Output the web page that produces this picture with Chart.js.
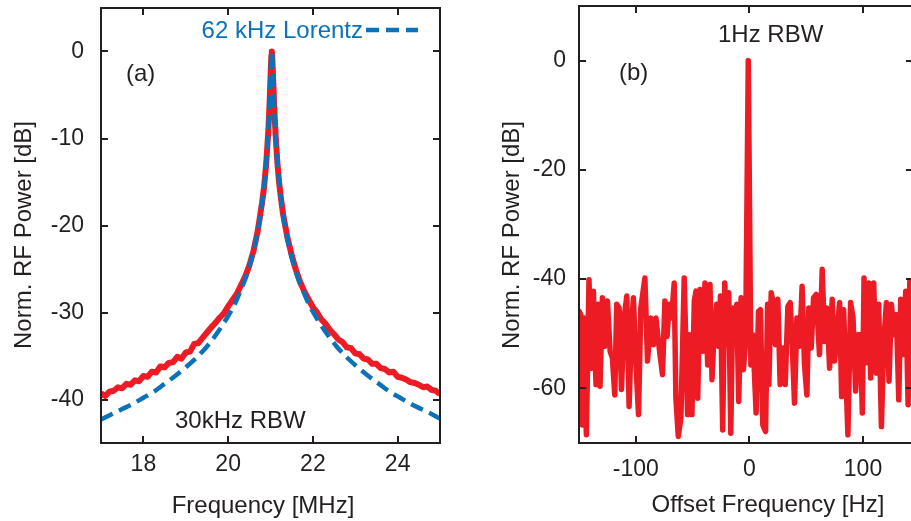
<!DOCTYPE html>
<html>
<head>
<meta charset="utf-8">
<script src="https://cdn.jsdelivr.net/npm/chart.js@4.4.1/dist/chart.umd.min.js"></script>
<style>
  html, body { margin: 0; padding: 0; background: #fff; overflow: hidden; width: 911px; height: 521px; }
  canvas { position: absolute; top: 0; }
  #chartA { left: 0; }
  #chartB { left: 460px; }
</style>
</head>
<body>
<canvas id="chartA" width="460" height="521"></canvas>
<canvas id="chartB" width="470" height="521"></canvas>
<script>
// --- panel (a): measured beat note, 30 kHz RBW ---
const measFreqMHz = [
  17.0, 17.1, 17.2, 17.3, 17.4, 17.5, 17.6, 17.7, 17.8, 17.9,
  18.0, 18.1, 18.2, 18.3, 18.4, 18.5, 18.6, 18.7, 18.8, 18.9,
  19.0, 19.1, 19.2, 19.3, 19.4, 19.5, 19.6, 19.7, 19.8, 19.9,
  20.0, 20.1, 20.2, 20.3, 20.4, 20.5, 20.6, 20.7, 20.8, 20.85,
  20.9, 20.95, 20.98, 21.0, 21.02, 21.03, 21.04, 21.06, 21.09, 21.12,
  21.16, 21.2, 21.25, 21.3, 21.4, 21.5, 21.6, 21.7, 21.8, 21.9,
  22.0, 22.1, 22.2, 22.3, 22.4, 22.5, 22.6, 22.7, 22.8, 22.9,
  23.0, 23.1, 23.2, 23.3, 23.4, 23.5, 23.6, 23.7, 23.8, 23.9,
  24.0, 24.1, 24.2, 24.3, 24.4, 24.5, 24.6, 24.7, 24.8, 24.9, 25.0
];
const measPowerDb = [
  -39.3, -39.6, -39.1, -39.0, -38.6, -38.7, -38.2, -38.3, -37.8, -37.9,
  -37.3, -37.4, -36.8, -36.9, -36.2, -36.3, -35.8, -35.7, -35.1, -35.3,
  -34.6, -34.5, -33.6, -33.5, -32.9, -32.3, -31.7, -31.2, -30.6, -30.1,
  -29.3, -28.6, -27.9, -26.9, -25.9, -24.6, -22.9, -20.6, -17.4, -15.5,
  -12.8, -9.0, -5.8, -3.0, -0.5, 0.0, -0.5, -2.9, -6.6, -9.5,
  -12.6, -14.9, -17.0, -18.8, -21.4, -23.4, -25.1, -26.5, -27.6, -28.5,
  -29.4, -30.0, -30.8, -31.3, -32.0, -32.5, -33.1, -33.4, -34.0, -34.1,
  -34.7, -34.8, -35.3, -35.4, -35.9, -35.9, -36.4, -36.5, -36.9, -36.8,
  -37.4, -37.5, -37.7, -38.0, -38.1, -38.3, -38.6, -38.5, -38.9, -39.0, -39.4
];
// 62 kHz Lorentz fit
const fitFreqMHz = [
  17.0, 17.25, 17.5, 17.75, 18.0, 18.25, 18.5, 18.75, 19.0, 19.25,
  19.5, 19.75, 20.0, 20.15, 20.3, 20.4, 20.5, 20.6, 20.7, 20.8,
  20.9, 20.95, 20.98, 21.0, 21.02, 21.03, 21.04, 21.06, 21.08, 21.11,
  21.16, 21.26, 21.36, 21.46, 21.56, 21.66, 21.76, 21.91, 22.06, 22.31,
  22.56, 22.81, 23.06, 23.31, 23.56, 23.81, 24.06, 24.31, 24.56, 24.81, 25.0
];
const fitPowerDb = [
  -42.3, -41.7, -41.1, -40.5, -39.8, -39.1, -38.2, -37.3, -36.3, -35.2,
  -33.9, -32.3, -30.4, -29.1, -27.4, -26.2, -24.7, -22.9, -20.6, -17.5,
  -12.7, -8.8, -5.6, -2.9, -0.4, 0.0, -0.4, -2.9, -5.6, -8.8,
  -12.7, -17.5, -20.6, -22.9, -24.7, -26.2, -27.4, -29.1, -30.4, -32.3,
  -33.9, -35.2, -36.3, -37.3, -38.2, -39.1, -39.8, -40.5, -41.1, -41.7, -42.2
];

// --- panel (b): 1 Hz RBW ---
const offsetHz = [
  -150.3, -149.8, -148.5, -147.1, -145.6, -143.5, -141.2, -139.1, -137.3, -136.2,
  -135.0, -133.2, -131.5, -129.4, -127.3, -125.0, -122.6, -120.6, -118.5, -116.8,
  -114.7, -112.6, -110.3, -107.9, -105.9, -103.8, -102.1, -100.0, -97.6, -95.6,
  -92.0, -89.7, -86.8, -84.5, -82.3, -79.4, -76.5, -74.4, -72.5, -70.6,
  -68.5, -66.2, -64.7, -62.6, -60.3, -57.4, -54.4, -52.5, -50.6, -48.5,
  -47.0, -45.5, -43.5, -41.1, -39.1, -36.7, -34.7, -32.9, -30.9, -28.8,
  -27.0, -25.5, -23.5, -21.7, -19.9, -18.2, -16.4, -14.7, -12.6, -11.1,
  -9.4, -7.3, -5.3, -3.3, -1.0, 1.3, 3.0, 5.9, 8.0, 9.7,
  11.8, 14.2, 16.0, 17.1, 19.2, 21.2, 23.0, 25.0, 27.1, 29.5,
  31.5, 33.9, 35.9, 37.7, 39.7, 41.8, 44.2, 46.4, 48.5, 50.6,
  52.3, 54.4, 56.5, 58.8, 61.7, 64.1, 66.2, 68.2, 70.6, 72.9,
  75.0, 77.0, 79.4, 81.2, 82.9, 84.7, 86.7, 89.1, 91.2, 93.5,
  95.6, 97.6, 99.4, 100.9, 102.9, 105.0, 106.7, 109.4, 111.7, 113.8,
  116.2, 118.2, 120.6, 122.9, 125.0, 127.3, 129.4, 131.5, 133.2, 135.3,
  137.6, 139.7, 141.2, 143.5, 145.5
];
const offsetPowerDb = [
  -51.7, -45.9, -46.5, -66.7, -47.1, -68.5, -40.1, -56.3, -42.2, -51.4,
  -59.3, -44.6, -59.6, -43.4, -52.3, -44.0, -53.2, -54.4, -61.2, -44.6,
  -45.3, -60.2, -47.1, -43.1, -63.3, -48.9, -43.4, -55.0, -64.8, -45.3,
  -39.8, -55.0, -47.1, -52.0, -47.1, -52.6, -57.5, -44.0, -50.5, -44.6,
  -47.1, -40.7, -61.8, -68.8, -65.4, -39.8, -64.8, -50.2, -64.8, -44.0,
  -42.2, -61.8, -41.9, -53.2, -40.7, -55.7, -41.0, -58.4, -48.9, -44.6,
  -52.3, -43.1, -67.6, -40.7, -52.0, -42.5, -68.2, -45.3, -48.9, -44.6,
  -62.4, -43.4, -56.6, -51.4, 0.0, -55.7, -50.2, -64.5, -45.9, -45.6,
  -66.7, -67.9, -44.6, -59.3, -42.5, -44.6, -52.0, -43.7, -59.3, -52.6,
  -59.3, -45.0, -44.3, -52.0, -62.7, -47.1, -52.3, -41.3, -55.7, -61.2,
  -45.3, -52.6, -43.4, -42.8, -53.8, -38.2, -51.4, -45.3, -56.3, -43.7,
  -55.0, -50.2, -44.3, -61.5, -45.6, -56.0, -68.5, -44.3, -47.1, -60.5,
  -50.2, -50.2, -64.5, -39.8, -55.3, -40.7, -58.1, -40.7, -57.2, -44.6,
  -67.0, -51.7, -44.3, -58.7, -44.6, -50.2, -46.5, -62.1, -43.7, -53.8,
  -42.2, -63.0, -40.4, -52.0, -46.0
];

const INK = '#231f20';
const RED = '#ed1c24';
const BLUE = '#0a72ba';
const FONT = '"Liberation Sans", Arial, sans-serif';

Chart.defaults.font.family = FONT;
Chart.defaults.color = INK;

const toPoints = (xs, ys) => xs.map((x, i) => ({ x: x, y: ys[i] }));

// box frame with inward ticks on all four sides, plus the panel texts
const panelPlugin = {
  id: 'panel',
  afterDatasetsDraw(chart, args, opts) {
    const { ctx, chartArea: a, scales } = chart;
    ctx.save();
    ctx.strokeStyle = INK;
    ctx.lineWidth = 2;
    ctx.beginPath();
    scales.x.ticks.forEach(t => {
      const px = Math.round(scales.x.getPixelForValue(t.value));
      ctx.moveTo(px, a.bottom); ctx.lineTo(px, a.bottom - 7);
      ctx.moveTo(px, a.top); ctx.lineTo(px, a.top + 7);
    });
    scales.y.ticks.forEach(t => {
      const py = Math.round(scales.y.getPixelForValue(t.value));
      ctx.moveTo(a.left, py); ctx.lineTo(a.left + 7, py);
      ctx.moveTo(a.right, py); ctx.lineTo(a.right - 7, py);
    });
    ctx.stroke();
    ctx.strokeRect(a.left, a.top, a.right - a.left, a.bottom - a.top);

    if (opts.key) {
      const ds = chart.data.datasets[opts.key.dataset];
      ctx.strokeStyle = ds.borderColor;
      ctx.lineWidth = ds.borderWidth;
      ctx.setLineDash(ds.borderDash || []);
      ctx.beginPath();
      ctx.moveTo(opts.key.x1, opts.key.y);
      ctx.lineTo(opts.key.x2, opts.key.y);
      ctx.stroke();
      ctx.setLineDash([]);
    }

    (opts.texts || []).forEach(t => {
      ctx.save();
      ctx.font = (t.size || 24) + 'px ' + FONT;
      ctx.fillStyle = t.color || INK;
      ctx.textAlign = t.align || 'left';
      ctx.textBaseline = 'alphabetic';
      ctx.translate(t.x, t.y);
      if (t.vertical) ctx.rotate(-Math.PI / 2);
      ctx.fillText(t.text, 0, 0);
      ctx.restore();
    });
    ctx.restore();
  }
};

function makeScales(xr, yr) {
  return {
    x: {
      type: 'linear', min: xr.min, max: xr.max,
      grid: { display: false, drawTicks: false }, border: { display: false },
      ticks: {
        stepSize: xr.step, autoSkip: false, maxRotation: 0, padding: xr.pad,
        includeBounds: xr.bounds !== false,
        font: { size: 23 },
        callback: v => (v % xr.every === 0 && v > xr.min && v < xr.max) ? String(v) : null
      },
      afterFit: s => { s.height = xr.height; s.paddingLeft = 0; s.paddingRight = 0; }
    },
    y: {
      type: 'linear', min: yr.min, max: yr.max,
      grid: { display: false, drawTicks: false }, border: { display: false },
      ticks: {
        stepSize: yr.step, autoSkip: false, padding: yr.pad,
        font: { size: 23 },
        callback: v => (v % yr.every === 0 && v > yr.min && v < yr.max) ? String(v) : null
      },
      afterFit: s => { s.width = yr.width; s.paddingTop = 0; s.paddingBottom = 0; }
    }
  };
}

new Chart(document.getElementById('chartA'), {
  type: 'line',
  data: {
    datasets: [
      {
        label: '62 kHz Lorentz',
        data: toPoints(fitFreqMHz, fitPowerDb),
        borderColor: BLUE, borderWidth: 4.5, borderDash: [13, 7],
        pointRadius: 0, cubicInterpolationMode: 'monotone', order: 0
      },
      {
        label: 'measured',
        data: toPoints(measFreqMHz, measPowerDb),
        borderColor: RED, borderWidth: 6, borderJoinStyle: 'round',
        pointRadius: 0, tension: 0, order: 1
      }
    ]
  },
  options: {
    responsive: false, animation: false, devicePixelRatio: 1,
    layout: { padding: { top: 8, right: 20, bottom: 0, left: 0 } },
    scales: makeScales(
      { min: 17, max: 25, step: 1, every: 2, pad: 8, height: 78 },
      { min: -45, max: 5, step: 5, every: 10, pad: 17, width: 101 }
    ),
    plugins: {
      legend: { display: false }, tooltip: { enabled: false },
      panel: {
        key: { dataset: 0, x1: 366, x2: 418, y: 30 },
        texts: [
          { text: '62 kHz Lorentz', x: 363, y: 38, align: 'right', color: BLUE },
          { text: '(a)', x: 126, y: 81 },
          { text: '30kHz RBW', x: 175, y: 428 },
          { text: 'Frequency [MHz]', x: 263, y: 513, align: 'center' },
          { text: 'Norm. RF Power [dB]', x: 31, y: 235, align: 'center', vertical: true }
        ]
      }
    }
  },
  plugins: [panelPlugin]
});

new Chart(document.getElementById('chartB'), {
  type: 'line',
  data: {
    datasets: [{
      label: '1Hz RBW',
      data: toPoints(offsetHz, offsetPowerDb),
      borderColor: RED, borderWidth: 5.5, borderJoinStyle: 'round', borderCapStyle: 'round',
      pointRadius: 0, tension: 0
    }]
  },
  options: {
    responsive: false, animation: false, devicePixelRatio: 1,
    layout: { padding: { top: 6, right: 17, bottom: 0, left: 0 } },
    scales: makeScales(
      { min: -150, max: 144, step: 50, every: 100, pad: 13, height: 78, bounds: false },
      { min: -70, max: 10, step: 10, every: 20, pad: 13, width: 119 }
    ),
    plugins: {
      legend: { display: false }, tooltip: { enabled: false },
      panel: {
        texts: [
          { text: '1Hz RBW', x: 258, y: 42 },
          { text: '(b)', x: 159, y: 80 },
          { text: 'Offset Frequency [Hz]', x: 308, y: 512, align: 'center' },
          { text: 'Norm. RF Power [dB]', x: 59, y: 235, align: 'center', vertical: true }
        ]
      }
    }
  },
  plugins: [panelPlugin]
});
</script>
</body>
</html>
